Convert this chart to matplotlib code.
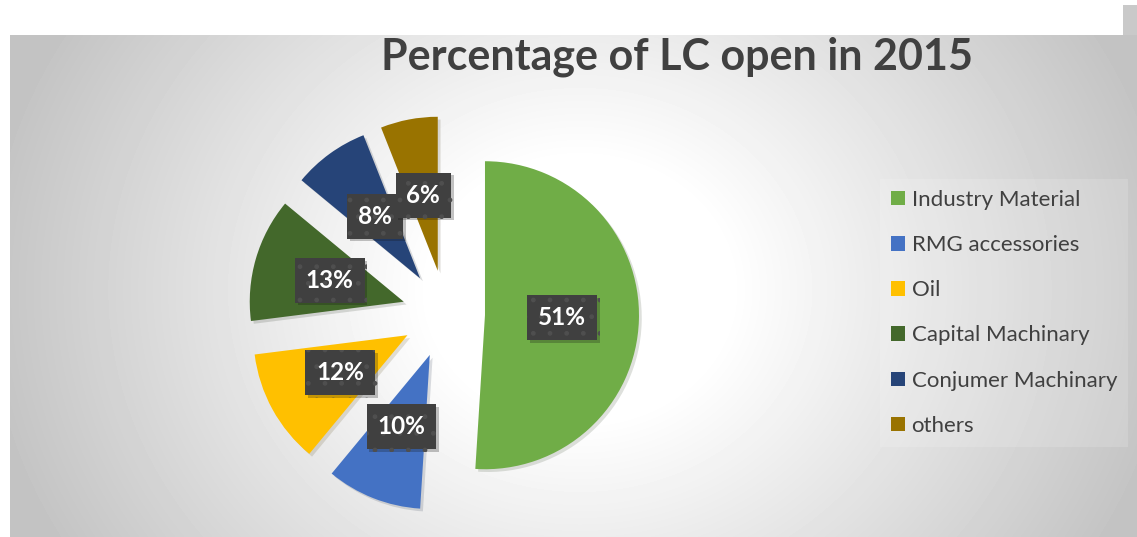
import numpy as np
import matplotlib
matplotlib.use('Agg')
import matplotlib.pyplot as plt
from matplotlib import rcParams
from matplotlib.patches import Rectangle
import matplotlib.patheffects as pe

# Chart data
categories = ['Industry Material', 'RMG accessories', 'Oil',
              'Capital Machinary', 'Conjumer Machinary', 'others']
shares = [51, 10, 12, 13, 8, 6]
colors = ['#70AD47', '#4472C4', '#FFC000', '#43682B', '#264478', '#997300']
title = 'Percentage of LC open in 2015'

W, H = 1137, 537


def set_rcparams():
    rcParams['font.family'] = ['Lato', 'DejaVu Sans']
    rcParams['hatch.linewidth'] = 1.0


def background(ax):
    # radial grey gradient behind the chart, white near the middle
    xs = np.arange(10, W) + 0.5
    ys = np.arange(35, H) + 0.5
    X, Y = np.meshgrid(xs, ys)
    d = np.hypot(X - 580, (Y - 290) * 1.15)
    t = np.clip((d - 150) / 450, 0, 1)
    grad = 1 - 0.235 * t
    ax.imshow(grad, extent=(10, W, 0, H - 35), cmap='gray', vmin=0, vmax=1,
              aspect='auto', zorder=0, interpolation='bilinear')
    ax.add_patch(Rectangle((1123, H - 35), 14, 30, color='#c9c9c9', zorder=0, lw=0))


def main():
    set_rcparams()
    fig = plt.figure(figsize=(W / 100, H / 100), dpi=100)
    ax = fig.add_axes([0, 0, 1, 1])

    background(ax)

    explode = [39, 44, 44, 44, 44, 44]
    wedges, texts, autotexts = ax.pie(
        shares, colors=colors, explode=explode, startangle=90, counterclock=False,
        radius=154, center=(446, H - 314), autopct=lambda p: f'{p:.0f}%',
        pctdistance=0.5, wedgeprops=dict(linewidth=0),
        textprops=dict(color='white', fontsize=17.5, fontweight='bold'))

    for w in wedges:
        w.set_zorder(2)
        w.set_path_effects([pe.SimplePatchShadow(offset=(2, -2), alpha=0.15), pe.Normal()])

    for t in autotexts:
        t.set_zorder(5)
        t.set_bbox(dict(boxstyle='square,pad=0.45', facecolor='#404040',
                        edgecolor='#4f4f4f', hatch='.', linewidth=0))
        t.get_bbox_patch().set_path_effects(
            [pe.SimplePatchShadow(offset=(2, -2), alpha=0.25), pe.Normal()])

    ax.set_xlim(0, W)
    ax.set_ylim(0, H)
    ax.set_aspect('auto')
    ax.axis('off')

    fig.text(677 / W, 1 - 57 / H, title, ha='center', va='center',
             fontsize=31, fontweight='bold', color='#404040')

    leg = ax.legend(wedges, categories, loc='upper left',
                    bbox_to_anchor=(880 / W, 1 - 179 / H), borderaxespad=0,
                    frameon=True, fontsize=16, handlelength=0.62, handleheight=0.62,
                    handletextpad=0.3, labelspacing=1.13, borderpad=0.5,
                    fancybox=False)
    leg.get_frame().set_facecolor('white')
    leg.get_frame().set_alpha(0.15)
    leg.get_frame().set_linewidth(0)
    for txt in leg.get_texts():
        txt.set_color('#404040')
    for h in leg.legend_handles:
        h.set_path_effects([])

    fig.savefig('out.png', dpi=100)


if __name__ == '__main__':
    main()
